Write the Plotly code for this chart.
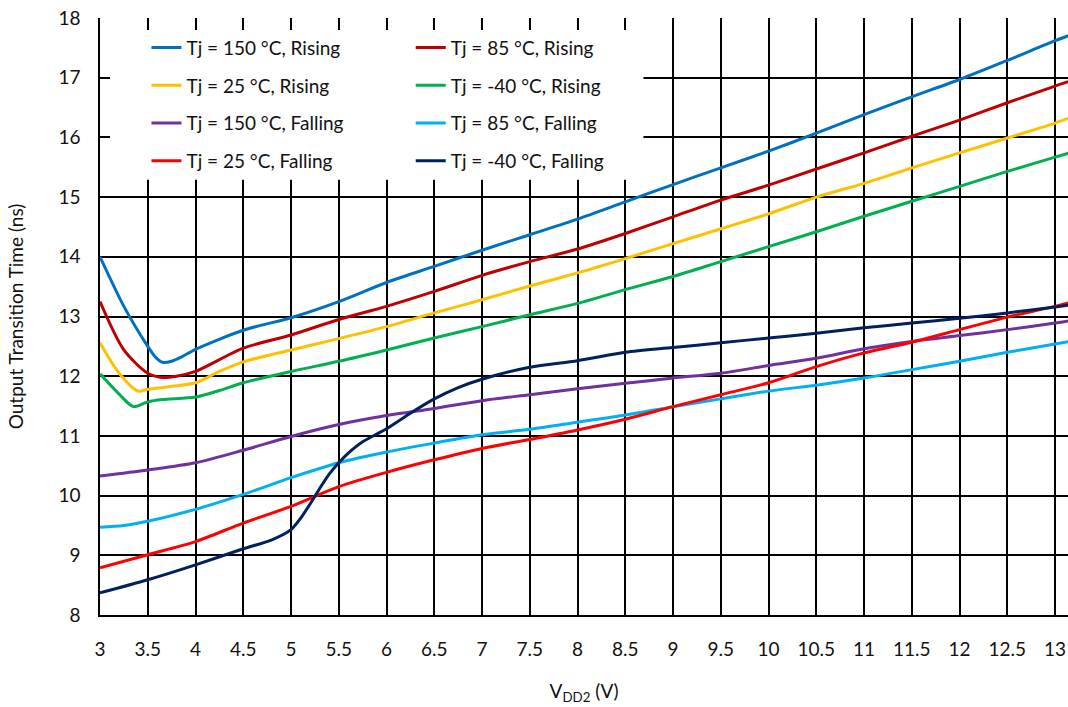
import plotly.graph_objects as go

# ---- data ----
x_150_rise = [3, 3.25, 3.5, 3.58, 3.66, 3.75, 3.85, 4, 4.5, 5, 5.5, 6, 6.5, 7, 7.5, 8, 8.5,
              9, 9.5, 10, 10.5, 11, 11.5, 12, 12.5, 13, 13.15]
tj150_rise = [14.0, 13.17, 12.5, 12.32, 12.23, 12.25, 12.32, 12.45, 12.77, 12.98, 13.25,
              13.57, 13.84, 14.11, 14.37, 14.63, 14.92, 15.21, 15.49, 15.77, 16.07, 16.38,
              16.68, 16.97, 17.29, 17.62, 17.71]

x_85_rise = [3, 3.25, 3.5, 3.65, 3.8, 4, 4.5, 5, 5.5, 6, 6.5, 7, 7.5, 8, 8.5, 9, 9.5, 10,
             10.5, 11, 11.5, 12, 12.5, 13, 13.15]
tj85_rise = [13.25, 12.44, 12.05, 11.98, 12.0, 12.08, 12.47, 12.69, 12.95, 13.17, 13.42,
             13.69, 13.92, 14.13, 14.39, 14.67, 14.95, 15.2, 15.47, 15.74, 16.02, 16.29,
             16.58, 16.86, 16.94]

x_25_rise = [3, 3.2, 3.4, 3.5, 3.75, 4, 4.25, 4.5, 5, 5.5, 6, 6.5, 7, 7.5, 8, 8.5, 9, 9.5,
             10, 10.5, 11, 11.5, 12, 12.5, 13, 13.15]
tj25_rise = [12.56, 12.05, 11.75, 11.78, 11.83, 11.89, 12.08, 12.24, 12.44, 12.63, 12.83,
             13.06, 13.28, 13.51, 13.73, 13.97, 14.22, 14.47, 14.72, 15.0, 15.23, 15.49,
             15.74, 15.99, 16.24, 16.33]

x_m40_rise = [3, 3.2, 3.35, 3.5, 3.65, 4, 4.25, 4.5, 5, 5.5, 6, 6.5, 7, 7.5, 8, 8.5, 9,
              9.5, 10, 10.5, 11, 11.5, 12, 12.5, 13, 13.15]
tjm40_rise = [12.04, 11.7, 11.49, 11.57, 11.61, 11.65, 11.76, 11.89, 12.08, 12.25, 12.44,
              12.64, 12.83, 13.03, 13.22, 13.45, 13.67, 13.92, 14.17, 14.42, 14.68, 14.93,
              15.18, 15.43, 15.67, 15.74]

x_150_fall = [3, 3.5, 4, 4.5, 5, 5.5, 6, 6.5, 7, 7.5, 8, 8.5, 9, 9.5, 10, 10.5, 11, 11.5,
              12, 12.5, 13, 13.15]
tj150_fall = [10.33, 10.43, 10.55, 10.76, 10.99, 11.19, 11.34, 11.46, 11.59, 11.69, 11.79,
              11.88, 11.97, 12.05, 12.18, 12.3, 12.46, 12.58, 12.68, 12.78, 12.89, 12.93]

x_85_fall = [3, 3.25, 3.5, 4, 4.5, 5, 5.5, 6, 6.5, 7, 7.5, 8, 8.5, 9, 9.5, 10, 10.5, 11,
             11.5, 12, 12.5, 13, 13.15]
tj85_fall = [9.47, 9.5, 9.57, 9.77, 10.02, 10.3, 10.55, 10.73, 10.88, 11.02, 11.11, 11.23,
             11.35, 11.49, 11.62, 11.75, 11.85, 11.97, 12.11, 12.25, 12.4, 12.54, 12.58]

x_25_fall = [3, 3.5, 4, 4.5, 5, 5.5, 6, 6.5, 7, 7.5, 8, 8.5, 9, 9.5, 10, 10.5, 11,
             11.5, 12, 12.5, 13, 13.15]
tj25_fall = [8.79, 9.01, 9.23, 9.54, 9.82, 10.15, 10.39, 10.6, 10.79, 10.94, 11.1, 11.28,
             11.49, 11.69, 11.89, 12.16, 12.39, 12.57, 12.78, 12.99, 13.17, 13.23]

x_m40_fall = [3, 3.5, 4, 4.5, 4.8, 5, 5.1, 5.2, 5.3, 5.4, 5.5, 5.6, 5.75, 6, 6.25, 6.5,
              6.75, 7, 7.5, 8, 8.5, 9, 9.5, 10, 10.5, 11, 11.5, 12, 12.5, 13, 13.15]
tjm40_fall = [8.37, 8.59, 8.84, 9.11, 9.26, 9.43, 9.62, 9.86, 10.12, 10.36, 10.55, 10.71,
              10.9, 11.12, 11.38, 11.62, 11.81, 11.95, 12.15, 12.26, 12.4, 12.48, 12.56,
              12.64, 12.72, 12.81, 12.89, 12.97, 13.06, 13.16, 13.19]

names = ["Tj = 150 °C, Rising", "Tj = 85 °C, Rising", "Tj = 25 °C, Rising",
         "Tj = -40 °C, Rising", "Tj = 150 °C, Falling", "Tj = 85 °C, Falling",
         "Tj = 25 °C, Falling", "Tj = -40 °C, Falling"]
colors = ["#0070C0", "#C00000", "#FFC000", "#00B050",
          "#7030A0", "#00B0F0", "#FF0000", "#002060"]
xs = [x_150_rise, x_85_rise, x_25_rise, x_m40_rise, x_150_fall, x_85_fall, x_25_fall, x_m40_fall]
ys = [tj150_rise, tj85_rise, tj25_rise, tjm40_rise, tj150_fall, tj85_fall, tj25_fall, tjm40_fall]
# legend column for each series (reference legend has two columns)
legend_ids = ["legend", "legend2", "legend", "legend2", "legend", "legend2", "legend", "legend2"]

FONT = "Lato, 'Open Sans', sans-serif"
FS = 19

fig = go.Figure()
for i in range(len(names)):
    fig.add_trace(go.Scatter(
        x=xs[i], y=ys[i], name=names[i], mode="lines",
        line=dict(color=colors[i], width=3, shape="spline", smoothing=0.8),
        legend=legend_ids[i], legendgroup=f"g{i}",
    ))

legend_style = dict(
    bgcolor="rgba(0,0,0,0)", borderwidth=0, orientation="v",
    font=dict(family=FONT, size=FS, color="#111"),
    tracegroupgap=10, xanchor="left", yanchor="top",
)

fig.update_layout(
    width=1068, height=707,
    margin=dict(l=100, r=0, t=18, b=92),
    paper_bgcolor="white", plot_bgcolor="white",
    font=dict(family=FONT, size=FS, color="#111"),
    showlegend=True,
    legend=dict(x=0.048, y=0.982, **legend_style),
    legend2=dict(x=0.321, y=0.982, **legend_style),
    shapes=[dict(type="rect", xref="x", yref="y", x0=3.105, x1=8.69, y0=15.29, y1=17.80,
                 fillcolor="white", line=dict(width=0), layer="between")],
    xaxis=dict(
        range=[3, 13.135], dtick=0.5, tick0=3, automargin=False,
        showgrid=True, gridcolor="black", gridwidth=1.5,
        showline=True, linecolor="black", linewidth=1.5,
        ticks="", ticklabelstandoff=16,
        tickfont=dict(family=FONT, size=FS),
        title=dict(text="V<sub>DD2</sub> (V)", font=dict(family=FONT, size=FS), standoff=26),
        zeroline=False,
    ),
    yaxis=dict(
        range=[8, 18], dtick=1, automargin=False,
        showgrid=True, gridcolor="black", gridwidth=1.5,
        showline=True, linecolor="black", linewidth=1.5,
        ticks="", ticklabelstandoff=14,
        tickfont=dict(family=FONT, size=FS),
        title=dict(text="Output Transition Time (ns)", font=dict(family=FONT, size=FS),
                   standoff=30),
        zeroline=False,
    ),
)

fig.write_html("out.html", config={"displayModeBar": False},
               post_script="document.body.style.margin='0';document.body.style.overflow='hidden';")
